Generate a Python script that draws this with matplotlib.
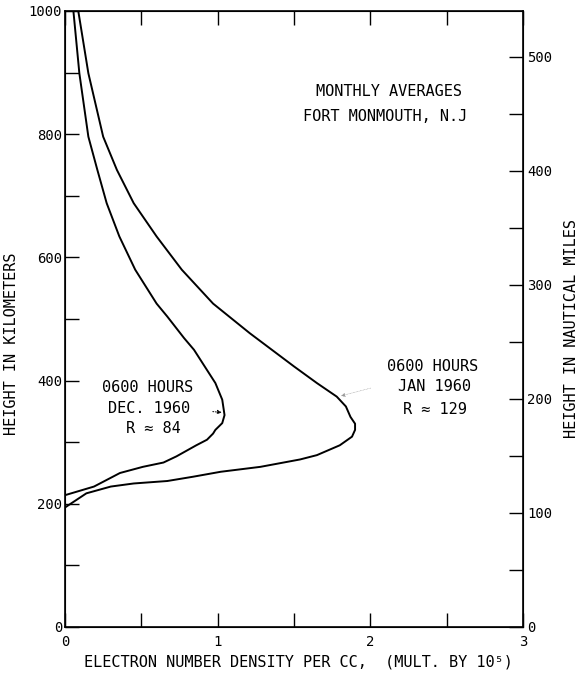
import numpy as np
import matplotlib.pyplot as plt

# lettering-style font, fall back for odd glyphs
plt.rcParams['font.family'] = ['DejaVu Sans Mono', 'DejaVu Sans']

#=============================================================================
#                       data
#=============================================================================
# 0600 hours, Dec 1960, R ~ 84  (electron density x 1e5 per cc vs height km)
dec_height = [214, 228, 250, 260, 267, 277, 295, 304, 314, 320, 331, 344,
              369, 396, 450, 469, 504, 525, 580, 634, 688, 742, 796, 899,
              1000]
dec_density = [0.00, 0.19, 0.36, 0.51, 0.645, 0.73, 0.86, 0.93, 0.97, 0.985,
               1.03, 1.045, 1.03, 0.985, 0.845, 0.78, 0.67, 0.60, 0.46, 0.356,
               0.273, 0.212, 0.153, 0.094, 0.055]

# 0600 hours, Jan 1960, R ~ 129
jan_height = [194, 217, 228, 233, 237, 244, 252, 260, 272, 279, 295, 309,
              320, 330, 341, 358, 374, 396, 423, 477, 525, 580, 634, 688,
              742, 796, 899, 1000]
jan_density = [0.00, 0.14, 0.30, 0.45, 0.67, 0.84, 1.02, 1.28, 1.54, 1.65,
               1.80, 1.88, 1.90, 1.90, 1.87, 1.84, 1.78, 1.65, 1.50, 1.21,
               0.97, 0.765, 0.60, 0.45, 0.34, 0.25, 0.153, 0.087]

x_ticks = [0, 0.5, 1, 1.5, 2, 2.5, 3]
x_ticklabels = ['0', '', '1', '', '2', '', '3']
km_ticks = [0, 100, 200, 300, 400, 500, 600, 700, 800, 900, 1000]
km_ticklabels = ['0', '', '200', '', '400', '', '600', '', '800', '', '1000']
nmi_ticks = [0, 100, 200, 300, 400, 500]
nmi_minor = [50, 150, 250, 350, 450]

KM_PER_NMI = 1.852

#=============================================================================
#                       plot
#=============================================================================
W, H = 579, 674
fig = plt.figure(figsize=(W / 100, H / 100), dpi=100)
ax = fig.add_axes([65 / W, 1 - 627 / H, 458 / W, 616 / H])

ax.plot(dec_density, dec_height, 'k-', lw=1.4)
ax.plot(jan_density, jan_height, 'k-', lw=1.4)

ax.set_xlim(0, 3)
ax.set_ylim(0, 1000)
ax.set_xticks(x_ticks)
ax.set_xticklabels(x_ticklabels)
ax.set_yticks(km_ticks)
ax.set_yticklabels(km_ticklabels)
ax.tick_params(axis='x', direction='in', length=10, width=1, top=True,
               labelsize=10, pad=6)
ax.tick_params(axis='y', direction='in', length=10, width=1, right=False,
               labelsize=10, pad=2)
for s in ax.spines.values():
    s.set_linewidth(1.2)

# right axis in nautical miles
ax2 = ax.twinx()
ax2.set_ylim(0, 1000 / KM_PER_NMI)
ax2.set_yticks(nmi_ticks)
ax2.set_yticks(nmi_minor, minor=True)
ax2.tick_params(axis='y', which='both', direction='in', length=10, width=1,
                labelsize=10, pad=3)

# axis labels
ax.text((12 - 65) / 458, (627 - 344) / 616, 'HEIGHT IN KILOMETERS',
        transform=ax.transAxes, rotation=90, ha='center', va='center',
        fontsize=11)
ax.text((572 - 65) / 458, (627 - 329) / 616, 'HEIGHT IN NAUTICAL MILES',
        transform=ax.transAxes, rotation=90, ha='center', va='center',
        fontsize=11)
ax.text((298 - 65) / 458, (627 - 662) / 616,
        'ELECTRON NUMBER DENSITY PER CC,  (MULT. BY 10\u2075)',
        transform=ax.transAxes, ha='center', va='center', fontsize=11)

# notes
ax.text(2.12, 869, 'MONTHLY AVERAGES', ha='center', va='center', fontsize=11)
ax.text(2.10, 828, 'FORT MONMOUTH, N.J', ha='center', va='center',
        fontsize=11)

ax.text(0.54, 388, '0600 HOURS', ha='center', va='center', fontsize=11)
ax.text(0.55, 354, 'DEC. 1960', ha='center', va='center', fontsize=11)
ax.text(0.58, 323, 'R \u2248 84', ha='center', va='center', fontsize=11)

ax.text(2.41, 423, '0600 HOURS', ha='center', va='center', fontsize=11)
ax.text(2.42, 390, 'JAN 1960', ha='center', va='center', fontsize=11)
ax.text(2.42, 353, 'R \u2248 129', ha='center', va='center', fontsize=11)

# little leader arrows to the curves
ax.annotate('', xy=(1.045, 348), xytext=(0.95, 350),
            arrowprops=dict(arrowstyle='-|>', lw=0.7, ls=':', color='k',
                            mutation_scale=6))
ax.annotate('', xy=(1.79, 374), xytext=(2.02, 389),
            arrowprops=dict(arrowstyle='-|>', lw=0.4, ls=':', color='0.6',
                            mutation_scale=6))

plt.savefig('out.png', dpi=100)
